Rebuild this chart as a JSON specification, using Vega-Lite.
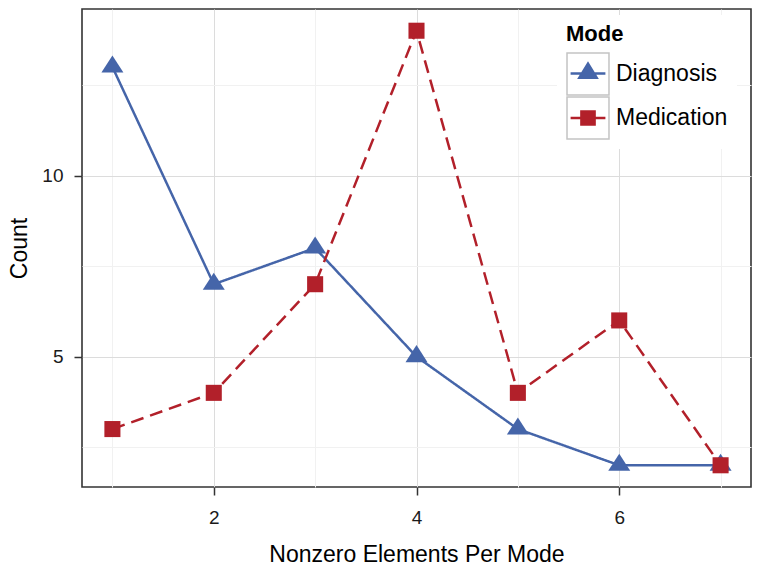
{
  "$schema": "https://vega.github.io/schema/vega-lite/v6.json",
  "width": 669,
  "height": 478,
  "autosize": "none",
  "padding": {"left": 82, "top": 9, "right": 10, "bottom": 88},
  "background": "white",
  "config": {
    "view": {"stroke": "#333333", "strokeWidth": 1.6, "fill": "white"},
    "font": "Liberation Sans"
  },
  "data": {
    "values": [
      {"Nonzero": 1, "Count": 13, "Mode": "Diagnosis"},
      {"Nonzero": 2, "Count": 7, "Mode": "Diagnosis"},
      {"Nonzero": 3, "Count": 8, "Mode": "Diagnosis"},
      {"Nonzero": 4, "Count": 5, "Mode": "Diagnosis"},
      {"Nonzero": 5, "Count": 3, "Mode": "Diagnosis"},
      {"Nonzero": 6, "Count": 2, "Mode": "Diagnosis"},
      {"Nonzero": 7, "Count": 2, "Mode": "Diagnosis"},
      {"Nonzero": 1, "Count": 3, "Mode": "Medication"},
      {"Nonzero": 2, "Count": 4, "Mode": "Medication"},
      {"Nonzero": 3, "Count": 7, "Mode": "Medication"},
      {"Nonzero": 4, "Count": 14, "Mode": "Medication"},
      {"Nonzero": 5, "Count": 4, "Mode": "Medication"},
      {"Nonzero": 6, "Count": 6, "Mode": "Medication"},
      {"Nonzero": 7, "Count": 2, "Mode": "Medication"}
    ]
  },
  "resolve": {"scale": {"shape": "independent", "color": "independent"}},
  "layer": [
    {
      "mark": {"type": "line", "strokeWidth": 2.5},
      "encoding": {
        "x": {
          "field": "Nonzero", "type": "quantitative",
          "scale": {"domain": [0.7, 7.3], "nice": false, "zero": false},
          "axis": {"orient": "top", "values": [1, 3, 5, 7], "grid": true, "gridColor": "#f1f1f1", "gridWidth": 1, "labels": false, "ticks": false, "domain": false, "title": null, "zindex": 0}
        },
        "y": {
          "field": "Count", "type": "quantitative",
          "scale": {"domain": [1.4, 14.6], "nice": false, "zero": false},
          "axis": {"orient": "right", "values": [2.5, 7.5, 12.5], "grid": true, "gridColor": "#f1f1f1", "gridWidth": 1, "labels": false, "ticks": false, "domain": false, "title": null, "zindex": 0}
        },
        "color": {"field": "Mode", "type": "nominal", "scale": {"range": ["#4565A9", "#B2202A"]}, "legend": null},
        "strokeDash": {"field": "Mode", "type": "nominal", "scale": {"range": [[1, 0], [13, 7]]}, "legend": null}
      }
    },
    {
      "mark": {"type": "point", "filled": true, "opacity": 1, "size": 484},
      "encoding": {
        "x": {
          "field": "Nonzero", "type": "quantitative",
          "scale": {"domain": [0.7, 7.3], "nice": false, "zero": false},
          "axis": {"orient": "bottom", "values": [2, 4, 6], "grid": true, "gridColor": "#dcdcdc", "gridWidth": 1, "domain": false,
            "ticks": true, "tickColor": "#333333", "tickWidth": 1.5, "tickSize": 8,
            "labelFontSize": 19, "labelColor": "#1a1a1a", "labelPadding": 13,
            "title": "Nonzero Elements Per Mode", "titleFontSize": 23, "titleFontWeight": "normal", "titleColor": "black", "titlePadding": 16, "zindex": 0}
        },
        "y": {
          "field": "Count", "type": "quantitative",
          "scale": {"domain": [1.4, 14.6], "nice": false, "zero": false},
          "axis": {"orient": "left", "values": [5, 10], "grid": true, "gridColor": "#dcdcdc", "gridWidth": 1, "domain": false,
            "ticks": true, "tickColor": "#333333", "tickWidth": 1.5, "tickSize": 8,
            "labelFontSize": 19, "labelColor": "#1a1a1a", "labelPadding": 11,
            "title": "Count", "titleFontSize": 23, "titleFontWeight": "normal", "titleColor": "black", "titlePadding": 10, "zindex": 0}
        },
        "color": {"field": "Mode", "type": "nominal", "scale": {"range": ["#4565A9", "#B2202A"]}, "legend": null},
        "shape": {"field": "Mode", "type": "nominal", "scale": {"range": ["M0,-1.05L1,0.5L-1,0.5Z", "M-0.73,-0.73H0.73V0.73H-0.73Z"]}, "legend": null}
      }
    },
    {
      "mark": {"type": "point", "filled": true, "opacity": 0, "size": 1849},
      "encoding": {
        "x": {"field": "Nonzero", "type": "quantitative", "axis": null},
        "y": {"field": "Count", "type": "quantitative", "axis": null},
        "color": {
          "field": "Mode", "type": "nominal",
          "scale": {"range": ["#4565A9", "#B2202A"]},
          "legend": {
            "orient": "none", "legendX": 475, "legendY": 6, "padding": 9,
            "title": "Mode", "titleFontSize": 22, "titleFontWeight": "bold", "titleColor": "black", "titlePadding": 6,
            "labelFontSize": 23, "labelColor": "black", "labelOffset": 6, "labelLimit": 300,
            "symbolSize": 1892, "symbolOpacity": 1, "symbolStrokeWidth": 0, "rowPadding": 0, "fillColor": "white", "zindex": 1
          }
        },
        "shape": {
          "field": "Mode", "type": "nominal",
          "scale": {"range": ["M-1,-1Z M1,1Z M-0.8,-0.08H0.8V0.03H-0.8Z M0,-0.59L0.5,0.23L-0.5,0.23Z", "M-1,-1Z M1,1Z M-0.8,-0.055H0.8V0.055H-0.8Z M-0.36,-0.36H0.36V0.36H-0.36Z"]},
          "legend": {
            "orient": "none", "legendX": 475, "legendY": 6, "padding": 9,
            "title": "Mode", "titleFontSize": 22, "titleFontWeight": "bold", "titleColor": "black", "titlePadding": 6,
            "labelFontSize": 23, "labelColor": "black", "labelOffset": 6, "labelLimit": 300,
            "symbolSize": 1892, "symbolOpacity": 1, "symbolStrokeWidth": 0, "rowPadding": 0, "fillColor": "white", "zindex": 1
          }
        }
      }
    },
    {
      "mark": {"type": "point", "filled": true, "opacity": 0, "size": 1892, "color": "#c4c4c4"},
      "encoding": {
        "x": {"field": "Nonzero", "type": "quantitative", "axis": null},
        "y": {"field": "Count", "type": "quantitative", "axis": null},
        "shape": {
          "field": "Mode", "type": "nominal",
          "scale": {"range": ["M-1,-1H1V1H-1Z M-0.93,-0.93V0.93H0.93V-0.93Z", "M-1,-1H1V1H-1Z M-0.93,-0.93V0.93H0.93V-0.93Z"]},
          "legend": {
            "orient": "none", "legendX": 475, "legendY": 6, "padding": 9,
            "title": "Mode", "titleFontSize": 22, "titleFontWeight": "bold", "titleOpacity": 0, "titlePadding": 6,
            "labelFontSize": 23, "labelOpacity": 0, "labelOffset": 6, "labelLimit": 300,
            "symbolSize": 1892, "symbolOpacity": 1, "symbolFillColor": "#c4c4c4", "symbolStrokeWidth": 0, "rowPadding": 0, "zindex": 2
          }
        }
      }
    }
  ]
}
